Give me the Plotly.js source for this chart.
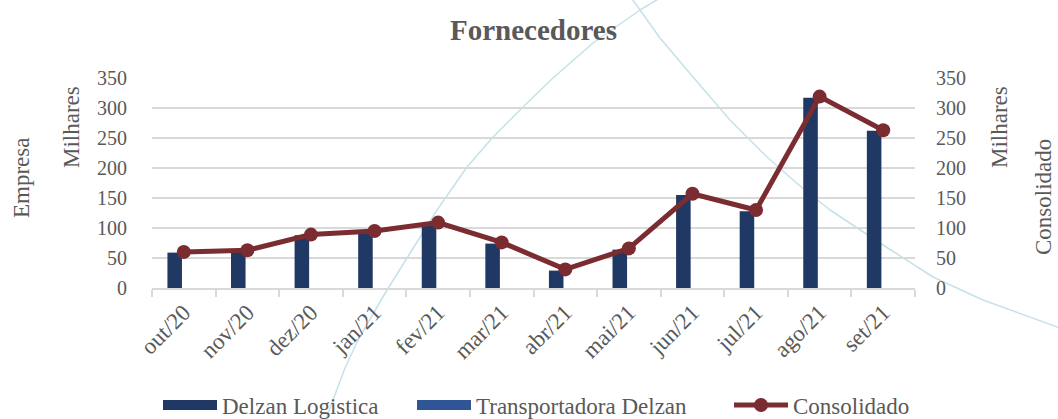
<!DOCTYPE html>
<html>
<head>
<meta charset="utf-8">
<script src="https://cdn.plot.ly/plotly-3.0.1.min.js"></script>
<style>
  html, body { margin:0; padding:0; background:#ffffff; }
  #wrap { position:relative; width:1058px; height:419px; overflow:hidden; }
  #deco { position:absolute; left:0; top:0; z-index:0; }
  #chart { position:absolute; left:0; top:0; width:1058px; height:419px; z-index:1; }
  #chart .legendtext { font-family: "Liberation Serif", serif !important; }
</style>
</head>
<body>
<div id="wrap">
  <svg id="deco" width="1058" height="419">
    <polyline fill="none" stroke="#c5e1ea" stroke-width="1.5" stroke-linejoin="round"
      points="326,419 333,400 345,368 358,340 387,290 412,250 437,210 467,167 493,137 523,107 553,78 593,43 640,10 660,-2"/>
    <polyline fill="none" stroke="#c5e1ea" stroke-width="1.5" stroke-linejoin="round"
      points="630,-4 660,38 693,77 730,120 767,157 800,186 830,210 880,243 933,277 983,300 1060,328"/>
  </svg>
  <div id="chart"></div>
</div>
<script>
const categories = ["out/20","nov/20","dez/20","jan/21","fev/21","mar/21","abr/21","mai/21","jun/21","jul/21","ago/21","set/21"];
const delzanLogistica = [59, 60, 88, 92, 104, 74, 29, 64, 155, 128, 317, 262];
const transportadoraDelzan = [0, 0, 0, 0, 0, 0, 0, 0, 0, 0, 0, 0];
const consolidado = [60, 63, 89, 95, 109, 76, 31, 66, 157, 130, 319, 263];
const yTicks = [0, 50, 100, 150, 200, 250, 300, 350];

const FONT = "Liberation Serif";
const GRAY = "#595959";
const NAVY = "#1f3864";
const BLUE = "#2f5597";
const RED = "#7b2c30";

const traces = [
  {
    type: "bar", name: "Delzan Logistica", x: categories, y: delzanLogistica,
    marker: { color: NAVY }, yaxis: "y", legendgroup: "dl", showlegend: false
  },
  {
    type: "bar", name: "Transportadora Delzan", x: categories, y: transportadoraDelzan,
    marker: { color: BLUE }, yaxis: "y", legendgroup: "td", showlegend: false
  },
  {
    type: "scatter", mode: "lines+markers", name: "Consolidado", x: categories, y: consolidado,
    line: { color: RED, width: 5 }, marker: { color: RED, size: 14 }, yaxis: "y2",
    legendgroup: "co", showlegend: false
  },
  // legend entries (drawn only in the legends)
  { type: "scatter", mode: "lines", name: "Delzan Logistica", x: [null], y: [null],
    line: { color: NAVY, width: 14 }, legendgroup: "dl", yaxis: "y", legend: "legend" },
  { type: "scatter", mode: "lines", name: "Transportadora Delzan", x: [null], y: [null],
    line: { color: BLUE, width: 14 }, legendgroup: "td", yaxis: "y", legend: "legend2" },
  { type: "scatter", mode: "lines+markers", name: "Consolidado", x: [null], y: [null],
    line: { color: RED, width: 5 }, marker: { color: RED, size: 14 }, legendgroup: "co", yaxis: "y2",
    legend: "legend3" }
];

function legendAt(px) {
  return {
    orientation: "h", x: px/1058, xanchor: "left", xref: "container",
    y: 1 - 405/419, yref: "container", yanchor: "middle",
    font: { family: FONT, size: 23, color: GRAY },
    itemwidth: 54, bgcolor: "rgba(0,0,0,0)", borderwidth: 0
  };
}

const layout = {
  width: 1058, height: 419,
  margin: { l: 152, r: 142.5, t: 78, b: 131, autoexpand: false },
  paper_bgcolor: "rgba(0,0,0,0)", plot_bgcolor: "rgba(0,0,0,0)",
  font: { family: FONT, color: GRAY, size: 20 },
  title: {
    text: "Fornecedores", x: 0.5, xref: "paper", xanchor: "center",
    y: 1 - 30/419, yref: "container", yanchor: "middle",
    font: { family: FONT, size: 29, color: GRAY, weight: "bold" }
  },
  barmode: "group", bargap: 0.428, bargroupgap: 0.2,
  showlegend: true,
  legend: legendAt(158),
  legend2: legendAt(412),
  legend3: legendAt(729),
  xaxis: {
    type: "category", range: [-0.5, 11.5], tickangle: -45, showgrid: false, automargin: false,
    showline: true, linecolor: "#d9d9d9", linewidth: 2,
    ticks: "outside", tickson: "boundaries", ticklen: 7, tickcolor: "#d9d9d9", tickwidth: 2,
    tickfont: { family: FONT, size: 23, color: GRAY }, fixedrange: true
  },
  yaxis: {
    range: [0, 350], tickvals: yTicks, showgrid: true, gridcolor: "#d9d9d9", gridwidth: 2,
    zeroline: false, showline: false, ticks: "", ticklabelstandoff: 24, automargin: false,
    tickfont: { family: FONT, size: 20, color: GRAY }, fixedrange: true
  },
  yaxis2: {
    range: [0, 350], tickvals: yTicks, overlaying: "y", side: "right", showgrid: false,
    zeroline: false, showline: false, ticks: "", ticklabelstandoff: 20, automargin: false,
    tickfont: { family: FONT, size: 20, color: GRAY }, fixedrange: true
  },
  annotations: [
    { text: "Milhares", xref: "paper", yref: "paper", x: 0, y: (288-127)/210, xshift: -80,
      textangle: -90, showarrow: false, xanchor: "center", yanchor: "middle",
      font: { family: FONT, size: 23, color: GRAY } },
    { text: "Empresa", xref: "paper", yref: "paper", x: 0, y: (288-178)/210, xshift: -131,
      textangle: -90, showarrow: false, xanchor: "center", yanchor: "middle",
      font: { family: FONT, size: 23, color: GRAY } },
    { text: "Milhares", xref: "paper", yref: "paper", x: 1, y: (288-127)/210, xshift: 85,
      textangle: -90, showarrow: false, xanchor: "center", yanchor: "middle",
      font: { family: FONT, size: 23, color: GRAY } },
    { text: "Consolidado", xref: "paper", yref: "paper", x: 1, y: (288-197)/210, xshift: 128,
      textangle: -90, showarrow: false, xanchor: "center", yanchor: "middle",
      font: { family: FONT, size: 23, color: GRAY } }
  ]
};

Plotly.newPlot("chart", traces, layout, { staticPlot: true, displayModeBar: false });
</script>
</body>
</html>
